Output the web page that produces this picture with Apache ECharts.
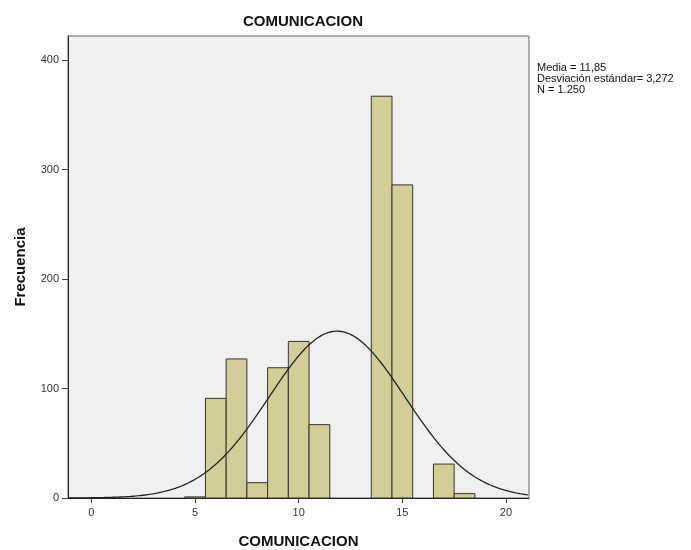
<!DOCTYPE html>
<html>
<head>
<meta charset="utf-8" />
<title>COMUNICACION</title>
<script src="https://cdn.jsdelivr.net/npm/echarts@6.0.0/dist/echarts.min.js"></script>
<style>
  html, body { margin: 0; padding: 0; background: #fff; }
  #main { width: 691px; height: 550px; }
</style>
</head>
<body>
<div id="main"></div>
<script>
// histogram bins (centre of each bin, width 1)
var binCenters = [5, 6, 7, 8, 9, 10, 11, 14, 15, 17, 18];
var frequencies = [1, 91, 127, 14, 119, 143, 67, 367, 286, 31, 4];
var xTicks = [0, 5, 10, 15, 20];
var yTicks = [0, 100, 200, 300, 400];
// stats printed on the right of the chart
var media = 11.85;
var desviacion = 3.272;
var total = 1250;
var binWidth = 1;

var xMin = -1.13, xMax = 21.11;

// normal curve from the printed media / desviacion / N
var curve = [];
for (var x = xMin; x <= xMax + 0.001; x += 0.1) {
  var z = (x - media) / desviacion;
  curve.push([x, total * binWidth / (desviacion * Math.sqrt(2 * Math.PI)) * Math.exp(-0.5 * z * z)]);
}

var font = "'Liberation Sans', Arial, sans-serif";
var chart = echarts.init(document.getElementById('main'));

chart.setOption({
  animation: false,
  title: {
    text: 'COMUNICACION',
    left: 298, top: 9, textAlign: 'center',
    textStyle: { fontFamily: font, fontSize: 15, fontWeight: 'bold', color: '#111' }
  },
  grid: {
    left: 68, top: 36, right: 162, bottom: 52,
    outerBoundsMode: 'none', containLabel: false,
    show: true, backgroundColor: '#f0f0f0', borderColor: '#666', borderWidth: 1
  },
  xAxis: {
    type: 'value', min: xMin, max: xMax,
    name: 'COMUNICACION', nameLocation: 'middle', nameGap: 36,
    nameTextStyle: { fontFamily: font, fontSize: 15, fontWeight: 'bold', color: '#111' },
    axisLine: { onZero: false, lineStyle: { color: '#222', width: 1 } },
    axisTick: { length: 5, customValues: xTicks, lineStyle: { color: '#444' } },
    axisLabel: { customValues: xTicks, fontFamily: font, fontSize: 11, color: '#333', margin: 9 },
    splitLine: { show: false }
  },
  yAxis: {
    type: 'value', min: 0, max: 422,
    name: 'Frecuencia', nameLocation: 'middle', nameGap: 40, nameRotate: 90,
    nameTextStyle: { fontFamily: font, fontSize: 15, fontWeight: 'bold', color: '#111' },
    axisLine: { show: true, onZero: false, lineStyle: { color: '#222', width: 1 } },
    axisTick: { show: true, length: 6, customValues: yTicks, lineStyle: { color: '#444' } },
    axisLabel: { customValues: yTicks, fontFamily: font, fontSize: 11, color: '#333', margin: 9 },
    splitLine: { show: false }
  },
  graphic: [{
    type: 'text', left: 537, top: 62,
    style: {
      text: 'Media = 11,85\nDesviación estándar= 3,272\nN = 1.250',
      font: "11px 'Liberation Sans', Arial, sans-serif", fill: '#111', lineHeight: 11
    }
  }],
  series: [{
    type: 'custom',
    data: binCenters.map(function (c, i) { return [c, frequencies[i]]; }),
    encode: { x: 0, y: 1 },
    renderItem: function (params, api) {
      var c = api.value(0), v = api.value(1);
      var p0 = api.coord([c - binWidth / 2, v]);
      var p1 = api.coord([c + binWidth / 2, 0]);
      return {
        type: 'rect',
        shape: { x: p0[0], y: p0[1], width: p1[0] - p0[0], height: p1[1] - p0[1] },
        style: { fill: '#d3ce98', stroke: '#333', lineWidth: 1 }
      };
    },
    z: 2
  }, {
    type: 'line',
    data: curve,
    showSymbol: false,
    clip: true,
    lineStyle: { color: '#222', width: 1.3 },
    z: 3
  }]
});
</script>
</body>
</html>
